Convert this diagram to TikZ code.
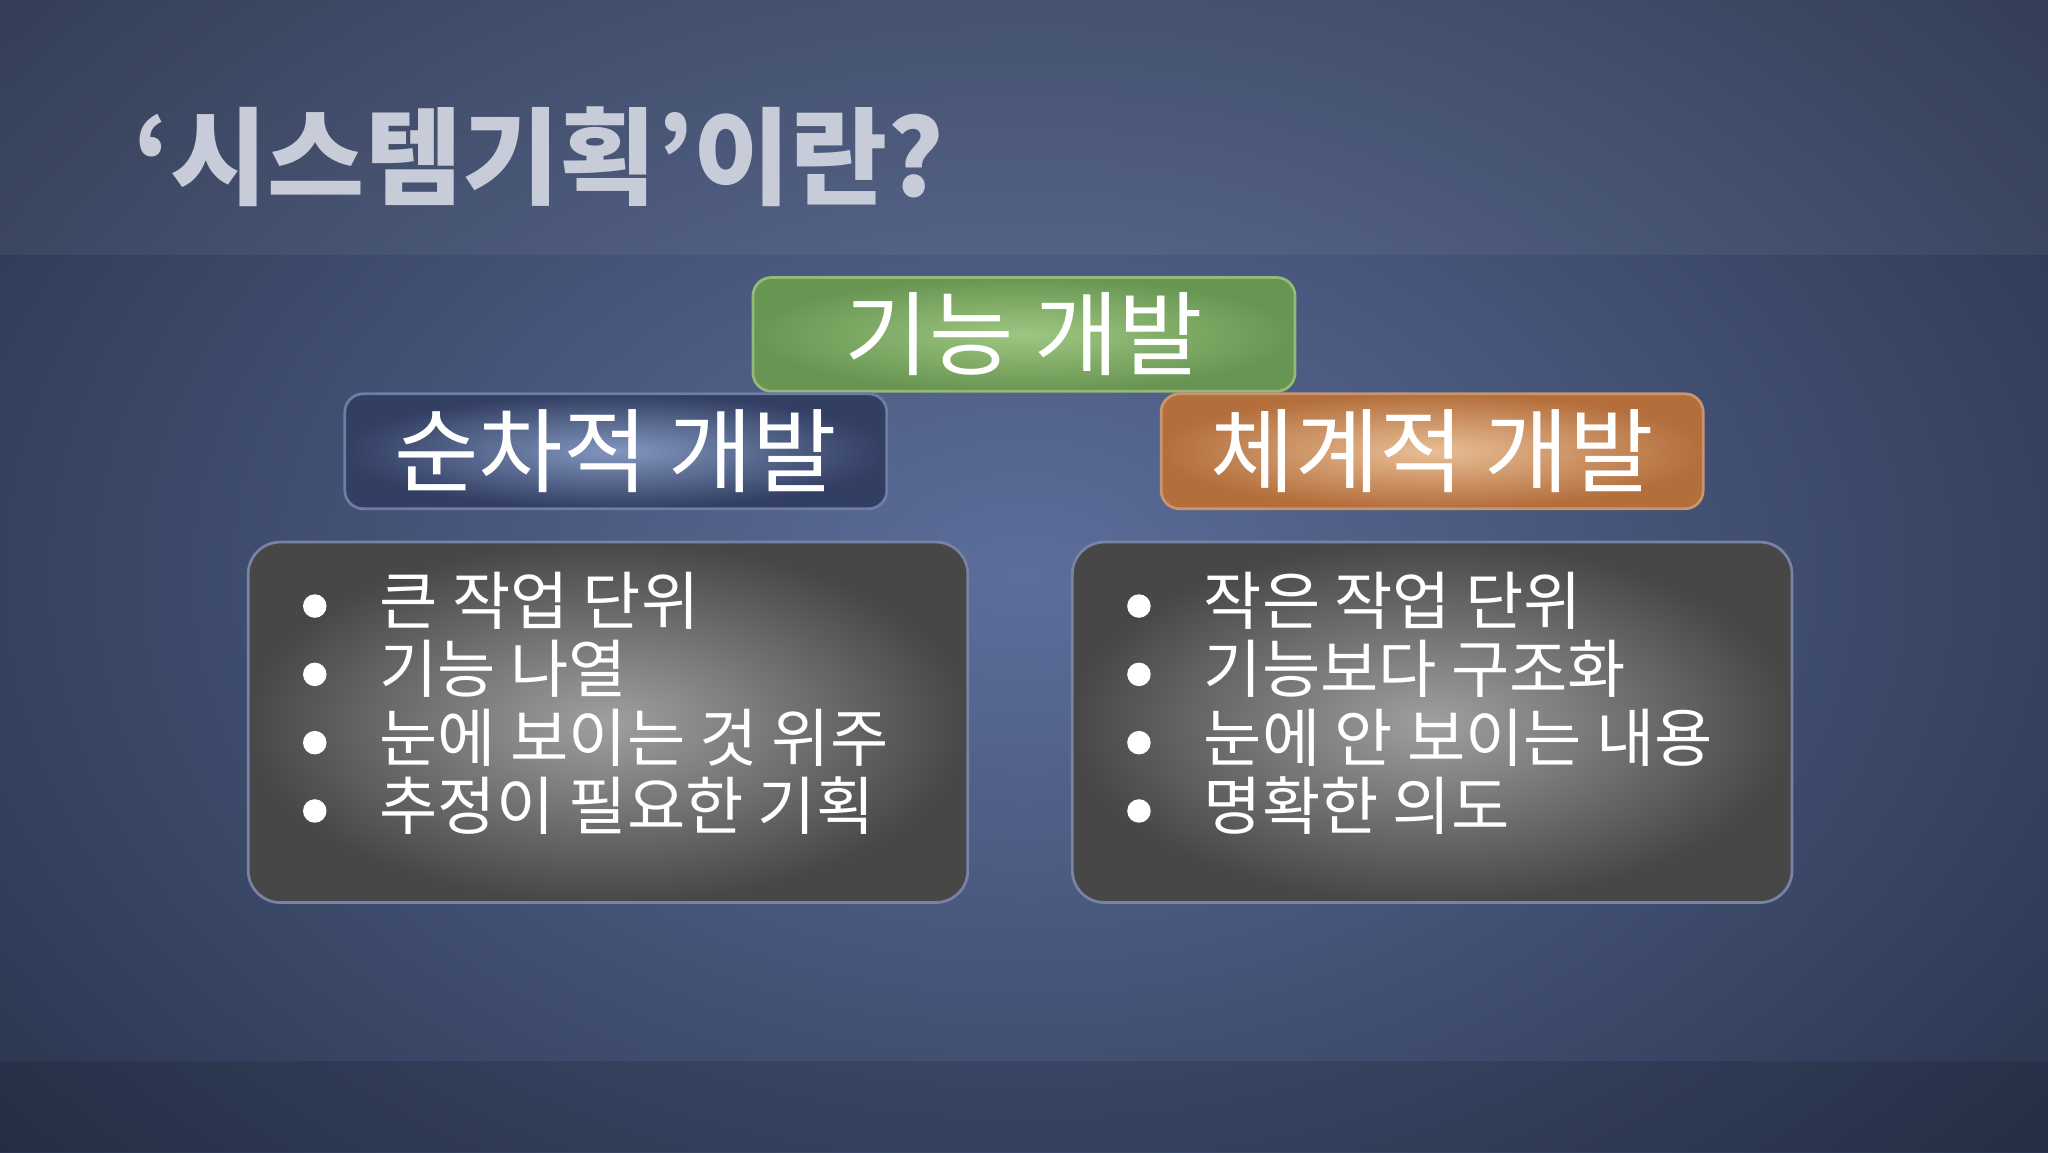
\documentclass[tikz,border=0pt]{standalone}
\usepackage{fontspec}
\setmainfont{Noto Sans CJK KR}
\definecolor{bgin}{RGB}{92,110,155}
\definecolor{bgout}{RGB}{38,48,72}
\definecolor{ttl}{RGB}{200,204,216}
\definecolor{gdr}{RGB}{150,185,120}
\definecolor{gin}{RGB}{158,198,130}
\definecolor{gout}{RGB}{104,150,82}
\definecolor{bdr}{RGB}{110,125,165}
\definecolor{bin}{RGB}{130,150,190}
\definecolor{bout}{RGB}{50,62,98}
\definecolor{odr}{RGB}{200,150,110}
\definecolor{oin}{RGB}{232,190,150}
\definecolor{oout}{RGB}{180,110,60}
\definecolor{pdr}{RGB}{120,130,165}
\begin{document}
\begin{tikzpicture}[x=1cm,y=1cm,
  hdr/.style={rounded corners=4pt, draw=#1, line width=0.6pt, minimum width=4.15cm, minimum height=0.88cm, text=white, font=\fontsize{20}{22}\selectfont},
  panel/.style={rounded corners=7pt, draw=pdr, line width=0.6pt, minimum width=5.51cm, minimum height=2.76cm, inner color=gray!75!white, outer color=black!72},
  item/.style={anchor=west, text=white, font=\fontsize{13.8}{16}\selectfont, inner sep=0pt},
  dot/.style={fill=white, draw=none}]
\useasboundingbox (0,0) rectangle (15.68,8.82);
\fill[bgout] (0,0) rectangle (15.68,8.82);
\shade[inner color=bgin, outer color=bgout] (-3,-3) rectangle (18.68,11.82);
\fill[white, opacity=0.05] (0,6.87) rectangle (15.68,8.82);
\fill[black, opacity=0.12] (0,0) rectangle (15.68,0.7);
\node[anchor=west, text=ttl, font=\fontsize{23}{26}\selectfont\bfseries] (title) at (0.9,7.62) {‘시스템기획’이란?};
\node[hdr=gdr, minimum height=0.76cm, inner color=gin, outer color=gout] (func) at (7.84,6.26) {기능 개발};
\node[hdr=bdr, inner color=bin, outer color=bout] (seq) at (4.715,5.365) {순차적 개발};
\node[hdr=odr, inner color=oin, outer color=oout] (sys) at (10.965,5.365) {체계적 개발};
\node[panel] (left) at (4.655,3.29) {};
\node[panel] (right) at (10.965,3.29) {};
\foreach \t [count=\i] in {큰 작업 단위, 기능 나열, 눈에 보이는 것 위주, 추정이 필요한 기획}{
  \fill[dot] (2.41,{8.82-4.64-(\i-1)*0.523}) circle (0.09);
  \node[item] (l\i) at (2.9,{8.82-4.60-(\i-1)*0.523}) {\t};
}
\foreach \t [count=\i] in {작은 작업 단위, 기능보다 구조화, 눈에 안 보이는 내용, 명확한 의도}{
  \fill[dot] (8.72,{8.82-4.64-(\i-1)*0.523}) circle (0.09);
  \node[item] (r\i) at (9.21,{8.82-4.60-(\i-1)*0.523}) {\t};
}
\end{tikzpicture}
\end{document}
